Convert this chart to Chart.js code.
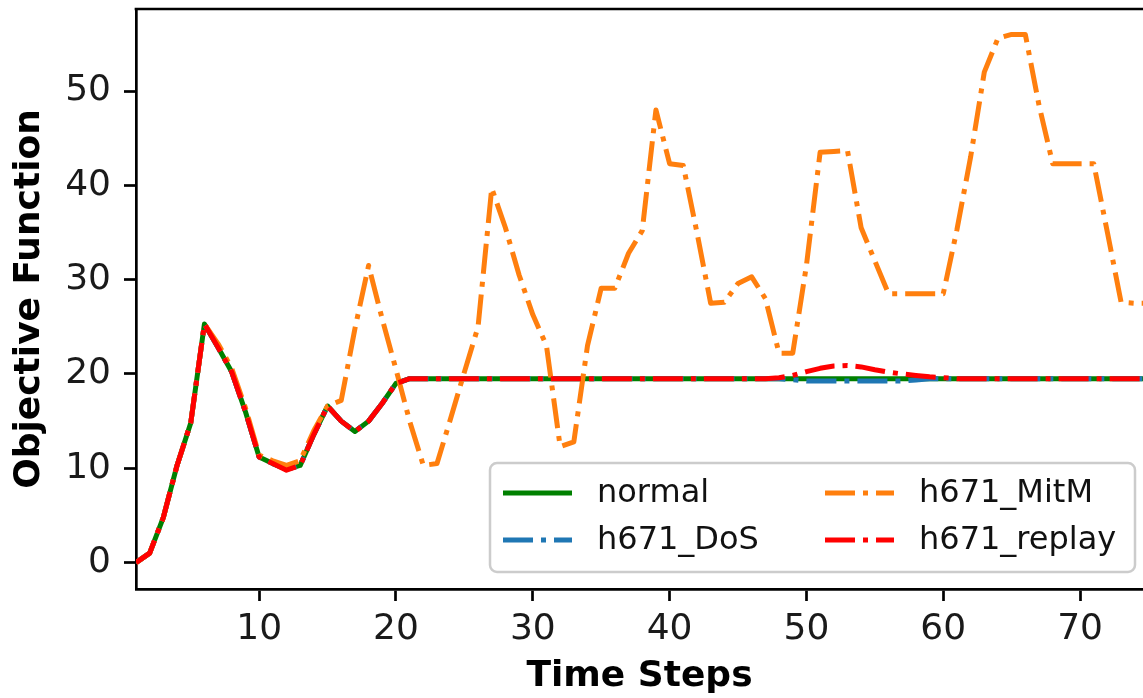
<!DOCTYPE html>
<html>
<head>
<meta charset="utf-8">
<script src="https://cdn.jsdelivr.net/npm/chart.js@4.4.1/dist/chart.umd.min.js"></script>
<style>
  html, body { margin: 0; padding: 0; background: #fff; overflow: hidden; }
</style>
</head>
<body>
<canvas id="objChart" width="1143" height="698"></canvas>
<script>
// time steps 1..75
const steps = [
  1, 2, 3, 4, 5, 6, 7, 8, 9, 10,
  11, 12, 13, 14, 15, 16, 17, 18, 19, 20,
  21, 22, 23, 24, 25, 26, 27, 28, 29, 30,
  31, 32, 33, 34, 35, 36, 37, 38, 39, 40,
  41, 42, 43, 44, 45, 46, 47, 48, 49, 50,
  51, 52, 53, 54, 55, 56, 57, 58, 59, 60,
  61, 62, 63, 64, 65, 66, 67, 68, 69, 70,
  71, 72, 73, 74, 75
];

const normal = [
  0.0, 1.0, 4.8, 10.3, 14.8, 25.3, 22.8, 20.2, 16.0, 11.2,
  10.5, 9.9, 10.3, 13.6, 16.6, 15.0, 13.9, 15.0, 16.9, 19.0,
  19.5, 19.5, 19.5, 19.5, 19.5, 19.5, 19.5, 19.5, 19.5, 19.5,
  19.5, 19.5, 19.5, 19.5, 19.5, 19.5, 19.5, 19.5, 19.5, 19.5,
  19.5, 19.5, 19.5, 19.5, 19.5, 19.5, 19.5, 19.5, 19.5, 19.5,
  19.5, 19.5, 19.5, 19.5, 19.5, 19.5, 19.5, 19.5, 19.5, 19.5,
  19.5, 19.5, 19.5, 19.5, 19.5, 19.5, 19.5, 19.5, 19.5, 19.5,
  19.5, 19.5, 19.5, 19.5, 19.5
];

const dos = [
  0.0, 1.0, 4.8, 10.3, 14.8, 25.3, 22.8, 20.2, 16.0, 11.2,
  10.5, 9.9, 10.3, 13.6, 16.6, 15.0, 13.9, 15.0, 16.9, 19.0,
  19.5, 19.5, 19.5, 19.5, 19.5, 19.5, 19.5, 19.5, 19.5, 19.5,
  19.5, 19.5, 19.5, 19.5, 19.5, 19.5, 19.5, 19.5, 19.5, 19.5,
  19.5, 19.5, 19.5, 19.5, 19.5, 19.5, 19.5, 19.5, 19.4, 19.25,
  19.25, 19.25, 19.25, 19.25, 19.25, 19.25, 19.25, 19.35, 19.5, 19.5,
  19.5, 19.5, 19.5, 19.5, 19.5, 19.5, 19.5, 19.5, 19.5, 19.5,
  19.5, 19.5, 19.5, 19.5, 19.5
];

const mitm = [
  0.0, 1.0, 4.8, 10.3, 14.8, 25.3, 23.2, 20.6, 16.4, 11.4,
  10.8, 10.3, 10.8, 14.0, 16.6, 17.2, 24.8, 31.5, 25.8, 20.5,
  15.0, 10.3, 10.5, 15.3, 20.2, 25.0, 39.7, 35.5, 30.5, 26.3,
  23.0, 12.3, 12.8, 23.0, 29.1, 29.1, 32.8, 35.2, 48.0, 42.3,
  42.1, 35.0, 27.5, 27.6, 29.6, 30.3, 28.0, 22.2, 22.2, 31.5,
  43.5, 43.6, 43.7, 35.5, 32.0, 28.5, 28.5, 28.5, 28.5, 28.5,
  35.3, 43.0, 52.0, 55.6, 56.0, 56.0, 48.5, 42.3, 42.3, 42.3,
  42.3, 35.0, 27.6, 27.5, 27.5
];

const replay = [
  0.0, 1.0, 4.8, 10.3, 14.8, 25.3, 22.8, 20.2, 16.0, 11.2,
  10.5, 9.8, 10.3, 13.6, 16.6, 15.0, 13.9, 15.0, 16.9, 19.0,
  19.5, 19.5, 19.5, 19.5, 19.5, 19.5, 19.5, 19.5, 19.5, 19.5,
  19.5, 19.5, 19.5, 19.5, 19.5, 19.5, 19.5, 19.5, 19.5, 19.5,
  19.5, 19.5, 19.5, 19.5, 19.5, 19.5, 19.5, 19.6, 19.85, 20.25,
  20.6, 20.85, 20.9, 20.75, 20.45, 20.2, 20.0, 19.85, 19.7, 19.6,
  19.5, 19.5, 19.5, 19.5, 19.5, 19.5, 19.5, 19.5, 19.5, 19.5,
  19.5, 19.5, 19.5, 19.5, 19.5
];

const seriesNames = ['normal', 'h671_DoS', 'h671_MitM', 'h671_replay'];
const xTicks = [10, 20, 30, 40, 50, 60, 70];
const yTicks = [0, 10, 20, 30, 40, 50];

const toPoints = (vals) => vals.map((v, i) => ({ x: steps[i], y: v }));

const LW = 5;
const DASHDOT = [30, 8, 5, 8];

// legend slots: [dataset index, handle start x, row centre y]
const legendSlots = [
  [0, 503, 493],
  [1, 503, 540],
  [2, 825, 493],
  [3, 825, 540]
];

// no extra room for half-height edge labels, the plot box is fixed
const noEdgePadding = (scale) => {
  scale.paddingTop = 0;
  scale.paddingBottom = 0;
  scale.paddingLeft = 0;
  scale.paddingRight = 0;
};

const boxLegend = {
  id: 'boxLegend',
  afterDraw(chart) {
    const ctx = chart.ctx;
    const area = chart.chartArea;
    ctx.save();
    // top spine
    ctx.beginPath();
    ctx.strokeStyle = '#000';
    ctx.lineWidth = 2.7;
    ctx.moveTo(area.left - 1.35, area.top);
    ctx.lineTo(area.right + 2, area.top);
    ctx.stroke();

    // legend frame
    ctx.beginPath();
    ctx.roundRect(490, 463, 645, 109, 7);
    ctx.fillStyle = 'rgba(255,255,255,0.8)';
    ctx.fill();
    ctx.lineWidth = 2.5;
    ctx.strokeStyle = '#cccccc';
    ctx.stroke();

    ctx.font = '32px "DejaVu Sans"';
    ctx.textBaseline = 'middle';
    ctx.textAlign = 'left';
    legendSlots.forEach(([idx, hx, ry]) => {
      const ds = chart.data.datasets[idx];
      ctx.beginPath();
      ctx.setLineDash(ds.borderDash || []);
      ctx.lineCap = 'butt';
      ctx.strokeStyle = ds.borderColor;
      ctx.lineWidth = LW;
      ctx.moveTo(hx, ry);
      ctx.lineTo(hx + 69, ry);
      ctx.stroke();
      ctx.setLineDash([]);
      ctx.fillStyle = '#111';
      ctx.fillText(ds.label, hx + 94, ry + 1);
    });
    ctx.restore();
  }
};

const config = {
  type: 'line',
  data: {
    datasets: [
      {
        label: seriesNames[0],
        data: toPoints(normal),
        borderColor: '#008000',
        borderWidth: LW,
        borderJoinStyle: 'round',
        order: 3
      },
      {
        label: seriesNames[1],
        data: toPoints(dos),
        borderColor: '#1f77b4',
        borderWidth: LW,
        borderDash: DASHDOT,
        borderJoinStyle: 'round',
        order: 2
      },
      {
        label: seriesNames[2],
        data: toPoints(mitm),
        borderColor: '#ff7f0e',
        borderWidth: LW,
        borderDash: DASHDOT,
        borderJoinStyle: 'round',
        order: 1
      },
      {
        label: seriesNames[3],
        data: toPoints(replay),
        borderColor: '#ff0000',
        borderWidth: LW,
        borderDash: DASHDOT,
        borderJoinStyle: 'round',
        order: 0
      }
    ]
  },
  options: {
    responsive: false,
    animation: false,
    devicePixelRatio: 1,
    elements: {
      point: { radius: 0 },
      line: { tension: 0, fill: false, borderCapStyle: 'butt' }
    },
    layout: { padding: { top: 9, right: 0, left: 0, bottom: 0 } },
    plugins: {
      legend: { display: false },
      tooltip: { enabled: false }
    },
    scales: {
      x: {
        type: 'linear',
        min: 1,
        max: 74.6,
        afterBuildTicks: (scale) => { scale.ticks = xTicks.map(v => ({ value: v })); },
        afterFit: (scale) => { scale.height = 109; noEdgePadding(scale); },
        grid: {
          drawOnChartArea: false,
          drawTicks: true,
          tickLength: 12,
          tickWidth: 2.7,
          tickColor: '#000'
        },
        border: { display: true, color: '#000', width: 2.7 },
        ticks: {
          padding: 7,
          color: '#1a1a1a',
          font: { family: 'DejaVu Sans', size: 36 },
          maxRotation: 0
        },
        title: {
          display: true,
          text: 'Time Steps',
          color: '#000',
          font: { family: 'DejaVu Sans', size: 36, weight: 'bold' },
          padding: { top: 0, bottom: 0 }
        }
      },
      y: {
        min: -2.8,
        max: 58.7,
        afterBuildTicks: (scale) => { scale.ticks = yTicks.map(v => ({ value: v })); },
        afterFit: (scale) => { scale.width = 136; noEdgePadding(scale); },
        grid: {
          drawOnChartArea: false,
          drawTicks: true,
          tickLength: 12,
          tickWidth: 2.7,
          tickColor: '#000'
        },
        border: { display: true, color: '#000', width: 2.7 },
        ticks: {
          padding: 13,
          color: '#1a1a1a',
          font: { family: 'DejaVu Sans', size: 36 }
        },
        title: {
          display: true,
          text: 'Objective Function',
          color: '#000',
          font: { family: 'DejaVu Sans', size: 36, weight: 'bold' },
          padding: { top: 8, bottom: 0 }
        }
      }
    }
  },
  plugins: [boxLegend]
};

const chart = new Chart(document.getElementById('objChart'), config);
</script>
</body>
</html>
